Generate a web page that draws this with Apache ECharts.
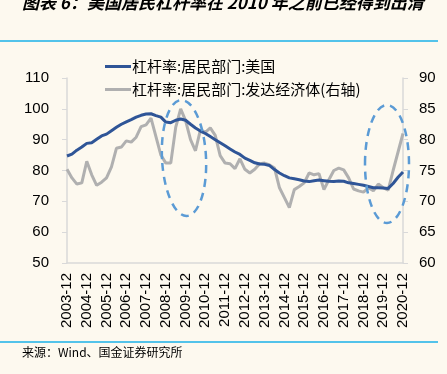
<!DOCTYPE html>
<html><head><meta charset="utf-8">
<script src="https://cdn.jsdelivr.net/npm/echarts@6/dist/echarts.min.js"></script>
<style>html,body{margin:0;padding:0;background:#FDF9EF;}#c{width:447px;height:374px;}</style>
</head><body><div id="c"></div>
<script>
var categories = ["2003-12","2004-03","2004-06","2004-09","2004-12","2005-03","2005-06","2005-09","2005-12","2006-03","2006-06","2006-09","2006-12","2007-03","2007-06","2007-09","2007-12","2008-03","2008-06","2008-09","2008-12","2009-03","2009-06","2009-09","2009-12","2010-03","2010-06","2010-09","2010-12","2011-03","2011-06","2011-09","2011-12","2012-03","2012-06","2012-09","2012-12","2013-03","2013-06","2013-09","2013-12","2014-03","2014-06","2014-09","2014-12","2015-03","2015-06","2015-09","2015-12","2016-03","2016-06","2016-09","2016-12","2017-03","2017-06","2017-09","2017-12","2018-03","2018-06","2018-09","2018-12","2019-03","2019-06","2019-09","2019-12","2020-03","2020-06","2020-09","2020-12"];
var usHousehold = [84.7,85.3,86.6,87.6,88.8,89.0,90.1,91.2,91.8,92.9,94.0,95.0,95.8,96.5,97.3,97.9,98.3,98.4,97.8,97.3,95.7,95.5,96.3,96.7,96.3,95.0,93.8,92.8,92.0,91.0,90.0,89.0,88.0,87.0,86.0,85.2,84.0,83.3,82.5,82.1,82.0,81.6,80.3,79.2,78.3,77.6,77.3,77.0,76.6,76.4,76.7,76.9,76.7,76.5,76.4,76.6,76.5,76.0,75.8,75.5,75.2,74.8,74.4,74.4,74.3,74.2,75.8,77.8,79.5];
var advancedHousehold = [75.2,73.8,72.8,73.0,76.5,74.3,72.6,73.1,73.8,75.6,78.6,78.8,79.8,79.6,80.4,82.1,82.4,83.5,80.5,77.5,76.2,76.2,82.0,85.0,83.1,80.0,78.2,81.6,81.2,81.9,80.7,77.4,76.2,76.1,75.3,76.9,75.2,74.6,75.2,76.1,76.2,75.9,75.4,72.2,70.6,69.0,71.9,72.4,73.0,74.6,74.3,74.5,71.9,73.5,75.0,75.4,75.1,73.8,72.0,71.7,71.5,72.2,71.7,72.8,72.2,71.8,75.0,78.0,81.0];
var seriesNames = ["杠杆率:居民部门:美国","杠杆率:居民部门:发达经济体(右轴)"];
var titleText = "图表 6：美国居民杠杆率在 2010 年之前已经得到出清";
var sourceText = "来源：Wind、国金证券研究所";

var chart = echarts.init(document.getElementById('c'), null, {renderer:'canvas'});
var axisGray = '#D9D9D9';
var lbl = {color:'#000', fontSize:15, fontFamily:'Liberation Sans, Arial, sans-serif'};
chart.setOption({
  backgroundColor:'#FDF9EF',
  animation:false,
  grid:{left:67, right:44, top:78, bottom:111, containLabel:false},
  legend:{
    orient:'vertical', left:100, top:54, itemGap:8, itemWidth:26, itemHeight:3,
    icon:'rect',
    textStyle:{color:'#000', fontSize:15, fontFamily:'Noto Sans CJK SC, sans-serif', padding:[0,0,0,-4]},
    data:seriesNames
  },
  xAxis:{
    type:'category', data:categories, boundaryGap:false,
    axisLine:{lineStyle:{color:axisGray, width:1.5}},
    axisTick:{show:false},
    axisLabel:Object.assign({interval:3, rotate:90, margin:10}, lbl)
  },
  yAxis:[
    {type:'value', min:50, max:110, interval:10, splitLine:{show:false},
     axisLine:{show:true, lineStyle:{color:axisGray, width:1.5}},
     axisTick:{show:true, length:5, lineStyle:{color:axisGray}},
     axisLabel:Object.assign({margin:18}, lbl)},
    {type:'value', min:60, max:90, interval:5, splitLine:{show:false}, position:'right',
     axisLine:{show:true, lineStyle:{color:axisGray, width:1.5}},
     axisTick:{show:true, length:5, lineStyle:{color:axisGray}},
     axisLabel:Object.assign({margin:16}, lbl)}
  ],
  series:[
    {name:seriesNames[0], type:'line', data:usHousehold, yAxisIndex:0, showSymbol:false,
     lineStyle:{color:'#2F5597', width:3}, itemStyle:{color:'#2F5597'}, z:3},
    {name:seriesNames[1], type:'line', data:advancedHousehold, yAxisIndex:1, showSymbol:false,
     lineStyle:{color:'#B0B0B0', width:3}, itemStyle:{color:'#B0B0B0'}, z:2}
  ],
  graphic:[
    {type:'text', left:22, top:-6, style:{text:titleText, fontSize:17, fontWeight:'bold', fontStyle:'italic', fill:'#000', fontFamily:'Noto Sans CJK SC, sans-serif'}},
    {type:'line', shape:{x1:0, y1:41, x2:438, y2:41}, style:{stroke:'#1AB0E8', lineWidth:1.5}},
    {type:'line', shape:{x1:0, y1:342, x2:438, y2:342}, style:{stroke:'#1AB0E8', lineWidth:1.5}},
    {type:'text', left:22, top:346, style:{text:sourceText, fontSize:12, fill:'#000', fontFamily:'Noto Sans CJK SC, sans-serif'}},
    {type:'ellipse', shape:{cx:184, cy:158, rx:22, ry:58}, rotation:0.05, originX:184, originY:158, style:{fill:'none', stroke:'#5B9BD5', lineWidth:2.5, lineDash:[8,6]}, z:10},
    {type:'ellipse', shape:{cx:387, cy:164, rx:22, ry:59}, style:{fill:'none', stroke:'#5B9BD5', lineWidth:2.5, lineDash:[8,6]}, z:10}
  ]
});
</script></body></html>
